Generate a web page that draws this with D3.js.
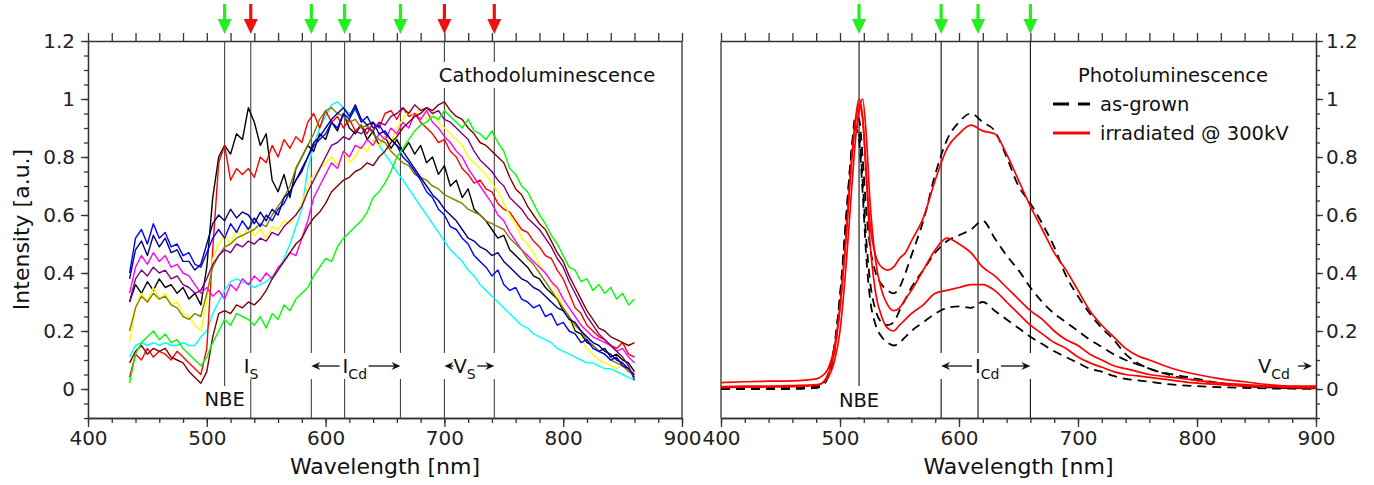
<!DOCTYPE html>
<html>
<head>
<meta charset="utf-8">
<script src="https://cdn.jsdelivr.net/npm/d3@7"></script>
<style>
  body { margin: 0; background: #fff; }
  svg { display: block; font-family: "DejaVu Sans", sans-serif; }
  .axis path, .axis line { stroke: #333; stroke-width: 1.3; }
  .axis text { fill: #222; font-size: 20px; font-family: "DejaVu Sans", sans-serif; }
  .lbl { fill: #111; font-size: 19.5px; }
  .title { fill: #111; font-size: 22px; }
</style>
</head>
<body>
<svg id="chart" width="1374" height="485"></svg>
<script>
// ---- Data ----
// Cathodoluminescence spectra, sampled every 5 nm from 435 nm
const CL_START = 435, CL_STEP = 5;

const clBlack = [0.30,0.36,0.33,0.37,0.34,0.38,0.35,0.36,0.33,0.35,
 0.31,0.33,0.29,0.42,0.66,0.80,0.84,0.81,0.88,0.86,
 0.97,0.92,0.84,0.88,0.72,0.68,0.74,0.66,0.76,0.80,
 0.84,0.82,0.88,0.86,0.92,0.89,0.95,0.90,0.88,0.91,
 0.86,0.89,0.84,0.87,0.83,0.86,0.82,0.85,0.81,0.84,
 0.78,0.80,0.74,0.77,0.70,0.72,0.66,0.69,0.62,0.60,
 0.58,0.55,0.52,0.53,0.48,0.46,0.44,0.42,0.39,0.38,
 0.35,0.33,0.31,0.27,0.25,0.20,0.19,0.16,0.15,0.13,
 0.14,0.11,0.12,0.10,0.09,0.06];
const clRed = [0.04,0.12,0.10,0.14,0.11,0.13,0.12,0.10,0.13,0.11,
 0.09,0.07,0.05,0.14,0.48,0.78,0.84,0.72,0.76,0.74,
 0.76,0.73,0.80,0.78,0.84,0.80,0.86,0.83,0.87,0.85,
 0.92,0.95,0.90,0.96,0.92,0.94,0.90,0.93,0.89,0.91,
 0.88,0.92,0.90,0.95,0.96,0.93,0.97,0.94,0.95,0.92,
 0.90,0.88,0.85,0.86,0.82,0.80,0.76,0.74,0.71,0.72,
 0.69,0.68,0.64,0.62,0.61,0.58,0.55,0.54,0.51,0.49,
 0.46,0.45,0.41,0.38,0.33,0.28,0.26,0.22,0.20,0.18,
 0.17,0.15,0.14,0.16,0.12,0.11];
const clBlue = [0.40,0.52,0.55,0.50,0.57,0.52,0.54,0.49,0.50,0.46,
 0.47,0.43,0.42,0.47,0.52,0.55,0.52,0.57,0.54,0.58,
 0.55,0.59,0.56,0.60,0.58,0.62,0.64,0.68,0.72,0.75,
 0.80,0.84,0.86,0.88,0.92,0.90,0.95,0.93,0.97,0.92,
 0.94,0.90,0.91,0.88,0.86,0.84,0.80,0.78,0.75,0.72,
 0.68,0.66,0.62,0.60,0.56,0.55,0.52,0.50,0.46,0.44,
 0.42,0.39,0.41,0.36,0.34,0.35,0.31,0.30,0.28,0.29,
 0.25,0.26,0.22,0.23,0.20,0.19,0.16,0.17,0.14,0.13,
 0.12,0.10,0.11,0.08,0.07,0.05];
const clNavy = [0.38,0.48,0.51,0.46,0.53,0.49,0.52,0.47,0.48,0.44,
 0.44,0.41,0.43,0.50,0.57,0.60,0.58,0.62,0.59,0.61,
 0.60,0.57,0.61,0.58,0.62,0.60,0.66,0.68,0.72,0.76,
 0.80,0.85,0.87,0.90,0.93,0.95,0.97,0.94,0.98,0.93,
 0.91,0.92,0.88,0.89,0.86,0.84,0.82,0.79,0.76,0.73,
 0.70,0.67,0.65,0.62,0.60,0.58,0.55,0.52,0.51,0.49,
 0.48,0.46,0.47,0.44,0.42,0.40,0.38,0.37,0.35,0.34,
 0.32,0.30,0.28,0.27,0.24,0.23,0.20,0.18,0.16,0.15,
 0.13,0.12,0.10,0.09,0.07,0.04];
const clMagenta = [0.33,0.42,0.46,0.43,0.47,0.44,0.46,0.42,0.43,0.40,
 0.39,0.36,0.33,0.35,0.32,0.34,0.31,0.36,0.34,0.38,
 0.36,0.39,0.37,0.40,0.38,0.42,0.44,0.47,0.46,0.52,
 0.58,0.66,0.70,0.74,0.78,0.76,0.82,0.80,0.84,0.83,
 0.86,0.84,0.88,0.86,0.90,0.88,0.92,0.90,0.95,0.93,
 0.96,0.92,0.90,0.87,0.85,0.82,0.80,0.76,0.73,0.70,
 0.67,0.64,0.60,0.58,0.54,0.51,0.48,0.46,0.44,0.42,
 0.40,0.37,0.35,0.31,0.28,0.25,0.22,0.20,0.18,0.17,
 0.16,0.15,0.13,0.14,0.11,0.09];
const clPurple = [0.30,0.38,0.41,0.39,0.42,0.40,0.41,0.38,0.39,0.36,
 0.35,0.33,0.34,0.38,0.43,0.46,0.48,0.47,0.50,0.49,
 0.51,0.50,0.52,0.51,0.54,0.53,0.56,0.58,0.60,0.63,
 0.68,0.72,0.76,0.80,0.84,0.85,0.87,0.86,0.89,0.88,
 0.90,0.89,0.92,0.91,0.94,0.95,0.97,0.95,0.98,0.96,
 0.97,0.95,0.96,0.93,0.92,0.90,0.88,0.86,0.82,0.79,
 0.77,0.75,0.72,0.70,0.66,0.64,0.62,0.59,0.57,0.55,
 0.52,0.49,0.45,0.42,0.37,0.33,0.29,0.25,0.22,0.19,
 0.17,0.15,0.13,0.11,0.08,0.03];
const clYellow = [0.16,0.28,0.33,0.30,0.35,0.31,0.33,0.29,0.30,0.26,
 0.25,0.22,0.20,0.30,0.45,0.50,0.53,0.50,0.55,0.52,
 0.56,0.53,0.55,0.52,0.56,0.55,0.58,0.57,0.60,0.64,
 0.70,0.74,0.76,0.78,0.80,0.77,0.82,0.78,0.80,0.84,
 0.82,0.86,0.84,0.87,0.85,0.90,0.93,0.96,0.94,0.97,
 0.93,0.95,0.92,0.90,0.88,0.86,0.84,0.80,0.78,0.76,
 0.74,0.71,0.68,0.64,0.60,0.57,0.52,0.50,0.47,0.43,
 0.40,0.37,0.33,0.28,0.24,0.19,0.17,0.14,0.12,0.10,
 0.09,0.08,0.07,0.09,0.06,0.05];
const clOlive = [0.20,0.28,0.32,0.30,0.33,0.31,0.32,0.29,0.28,0.25,
 0.24,0.26,0.25,0.33,0.42,0.46,0.49,0.50,0.52,0.53,
 0.54,0.55,0.57,0.56,0.60,0.63,0.66,0.70,0.76,0.80,
 0.84,0.88,0.93,0.96,0.97,0.95,0.94,0.92,0.93,0.90,
 0.91,0.88,0.86,0.85,0.82,0.80,0.78,0.77,0.74,0.73,
 0.72,0.70,0.69,0.67,0.66,0.65,0.64,0.62,0.61,0.60,
 0.58,0.57,0.56,0.55,0.52,0.50,0.48,0.45,0.43,0.40,
 0.37,0.34,0.31,0.28,0.25,0.22,0.20,0.17,0.15,0.13,
 0.12,0.10,0.09,0.08,0.06,0.05];
const clCyan = [0.11,0.15,0.16,0.15,0.16,0.15,0.16,0.15,0.15,0.16,
 0.15,0.15,0.18,0.20,0.26,0.30,0.34,0.37,0.38,0.37,
 0.36,0.35,0.36,0.37,0.39,0.41,0.45,0.50,0.56,0.62,
 0.76,0.84,0.90,0.94,0.98,0.99,0.97,0.95,0.96,0.93,
 0.91,0.88,0.84,0.81,0.78,0.75,0.72,0.69,0.66,0.63,
 0.60,0.57,0.54,0.51,0.48,0.46,0.44,0.41,0.39,0.36,
 0.34,0.32,0.30,0.28,0.26,0.24,0.22,0.21,0.19,0.18,
 0.17,0.16,0.14,0.13,0.12,0.11,0.10,0.09,0.09,0.08,
 0.07,0.07,0.06,0.05,0.04,0.03];
const clMaroon = [0.09,0.13,0.15,0.12,0.14,0.13,0.14,0.11,0.10,0.09,
 0.06,0.04,0.02,0.06,0.18,0.26,0.27,0.26,0.29,0.28,
 0.30,0.29,0.31,0.34,0.38,0.41,0.44,0.47,0.50,0.52,
 0.56,0.59,0.61,0.64,0.68,0.70,0.72,0.73,0.75,0.76,
 0.78,0.77,0.80,0.82,0.85,0.87,0.90,0.92,0.94,0.95,
 0.97,0.96,0.98,0.99,0.96,0.94,0.93,0.90,0.88,0.85,
 0.84,0.82,0.80,0.78,0.73,0.69,0.67,0.63,0.60,0.57,
 0.55,0.51,0.47,0.44,0.39,0.35,0.31,0.27,0.24,0.21,
 0.20,0.18,0.17,0.16,0.15,0.16];
const clGreen = [0.02,0.12,0.16,0.18,0.20,0.17,0.19,0.16,0.17,0.14,
 0.12,0.10,0.08,0.11,0.16,0.20,0.24,0.22,0.26,0.25,
 0.24,0.22,0.25,0.21,0.26,0.24,0.29,0.27,0.31,0.33,
 0.35,0.39,0.42,0.45,0.44,0.49,0.52,0.54,0.56,0.58,
 0.61,0.66,0.68,0.71,0.75,0.80,0.83,0.86,0.89,0.91,
 0.92,0.94,0.93,0.96,0.94,0.92,0.90,0.93,0.89,0.88,
 0.86,0.89,0.85,0.82,0.76,0.74,0.70,0.68,0.64,0.60,
 0.57,0.53,0.50,0.46,0.42,0.41,0.37,0.38,0.34,0.36,
 0.33,0.35,0.31,0.33,0.29,0.31];

// Photoluminescence spectra
const plWl = [400,420,440,460,480,485,490,495,500,505,510,513,516,519,522,525,530,535,540,545,
  550,555,560,570,580,590,600,610,620,630,640,650,660,670,680,690,700,710,720,730,
  740,750,760,780,800,820,840,860,880,900];
const plGrown1 = [0.005,0.005,0.005,0.005,0.01,0.02,0.05,0.14,0.32,0.58,0.84,0.94,0.93,0.80,0.62,0.50,0.40,0.36,0.34,0.33,
  0.35,0.40,0.46,0.58,0.74,0.86,0.92,0.95,0.92,0.89,0.80,0.70,0.64,0.57,0.49,0.39,0.32,0.26,0.21,0.17,
  0.12,0.09,0.07,0.05,0.035,0.02,0.012,0.008,0.004,0.003];
const plGrown2 = [0.0,0.0,0.0,0.002,0.005,0.015,0.05,0.14,0.32,0.58,0.83,0.91,0.88,0.72,0.52,0.38,0.27,0.23,0.22,0.23,
  0.27,0.31,0.35,0.41,0.47,0.51,0.53,0.55,0.58,0.52,0.46,0.41,0.35,0.30,0.26,0.23,0.20,0.17,0.145,0.12,
  0.10,0.085,0.07,0.045,0.03,0.02,0.01,0.006,0.003,0.002];
const plGrown3 = [0.0,0.0,0.0,0.0,0.004,0.012,0.04,0.12,0.30,0.56,0.82,0.90,0.86,0.68,0.46,0.32,0.22,0.18,0.16,0.15,
  0.16,0.18,0.20,0.23,0.26,0.28,0.285,0.28,0.30,0.27,0.24,0.21,0.18,0.155,0.13,0.11,0.09,0.07,0.06,0.045,
  0.035,0.03,0.025,0.015,0.01,0.006,0.004,0.002,0.001,0.0];
const plIrr1 = [0.022,0.025,0.027,0.028,0.035,0.045,0.07,0.14,0.28,0.52,0.80,0.93,1.0,0.94,0.74,0.58,0.46,0.42,0.41,0.42,
  0.45,0.47,0.51,0.59,0.72,0.83,0.88,0.91,0.89,0.88,0.81,0.72,0.63,0.55,0.47,0.41,0.34,0.27,0.22,0.18,
  0.14,0.115,0.10,0.07,0.05,0.035,0.025,0.015,0.01,0.01];
const plIrr2 = [0.008,0.01,0.01,0.012,0.015,0.02,0.04,0.09,0.20,0.42,0.70,0.86,0.96,1.0,0.88,0.66,0.44,0.34,0.29,0.27,
  0.28,0.31,0.34,0.41,0.48,0.52,0.50,0.47,0.42,0.39,0.35,0.31,0.27,0.24,0.20,0.17,0.15,0.12,0.10,0.08,
  0.07,0.06,0.05,0.04,0.03,0.02,0.015,0.01,0.008,0.005];
const plIrr3 = [0.005,0.006,0.007,0.008,0.012,0.02,0.05,0.12,0.28,0.52,0.80,0.92,0.98,0.93,0.75,0.52,0.33,0.25,0.21,0.20,
  0.22,0.24,0.26,0.29,0.33,0.34,0.35,0.36,0.36,0.34,0.30,0.26,0.22,0.19,0.16,0.14,0.11,0.09,0.075,0.06,
  0.05,0.045,0.04,0.03,0.02,0.015,0.01,0.008,0.005,0.004];

// Marker wavelengths
const clMarkGreen = [515, 588, 616, 663];
const clMarkRed = [537, 700, 742];
const plMarkGreen = [516, 585, 616, 660];

// Tick labels
const xMajor = [400, 500, 600, 700, 800, 900];
const xTickLabels = ["400", "500", "600", "700", "800", "900"];
const yMajor = [0, 0.2, 0.4, 0.6, 0.8, 1, 1.2];
const yTickLabels = ["0", "0.2", "0.4", "0.6", "0.8", "1", "1.2"];
const xMinor = d3.range(400, 901, 20);
const yMinor = d3.range(-0.1, 1.2001, 0.05);

// ---- Scales ----
const svg = d3.select("#chart");
const yScale = d3.scaleLinear().domain([-0.1, 1.2]).range([418, 41]);
const xLeft = d3.scaleLinear().domain([400, 900]).range([88, 682]);
const xRight = d3.scaleLinear().domain([400, 900]).range([721, 1316]);
const yTop = yScale(1.2), yBot = yScale(-0.1);

// clip areas
const defs = svg.append("defs");
[["clipL", xLeft], ["clipR", xRight]].forEach(([id, x]) => {
  defs.append("clipPath").attr("id", id).append("rect")
    .attr("x", x.range()[0]).attr("y", yTop)
    .attr("width", x.range()[1] - x.range()[0]).attr("height", yBot - yTop);
});

// ---- Axes / frames ----
function drawFrame(x, side) {
  const g = svg.append("g");
  g.append("g").attr("class", "axis").attr("transform", `translate(0,${yBot})`)
    .call(d3.axisBottom(x).tickValues(xMinor).tickSize(5).tickSizeOuter(0).tickFormat(""));
  g.append("g").attr("class", "axis").attr("transform", `translate(0,${yBot})`)
    .call(d3.axisBottom(x).tickValues(xMajor).tickSize(9).tickSizeOuter(0).tickPadding(4)
      .tickFormat((d, i) => xTickLabels[i]));
  g.append("g").attr("class", "axis").attr("transform", `translate(0,${yTop})`)
    .call(d3.axisTop(x).tickValues(xMinor).tickSize(8).tickSizeOuter(0).tickFormat(""));

  const xa = side === "left" ? x.range()[0] : x.range()[1];
  const xo = side === "left" ? x.range()[1] : x.range()[0];
  const axisFn = side === "left" ? d3.axisLeft : d3.axisRight;
  g.append("g").attr("class", "axis").attr("transform", `translate(${xa},0)`)
    .call(axisFn(yScale).tickValues(yMinor).tickSize(4).tickSizeOuter(0).tickFormat(""));
  g.append("g").attr("class", "axis").attr("transform", `translate(${xa},0)`)
    .call(axisFn(yScale).tickValues(yMajor).tickSize(7).tickSizeOuter(0).tickPadding(side === "left" ? 6 : 3)
      .tickFormat((d, i) => yTickLabels[i]));
  g.append("line").attr("x1", xo).attr("x2", xo).attr("y1", yTop).attr("y2", yBot)
    .attr("stroke", "#333").attr("stroke-width", 1.3);

  svg.append("text").attr("class", "title")
    .attr("x", (x.range()[0] + x.range()[1]) / 2).attr("y", 474)
    .attr("text-anchor", "middle").text("Wavelength [nm]");
}

drawFrame(xLeft, "left");
drawFrame(xRight, "right");

svg.append("text").attr("class", "title")
  .attr("transform", `translate(29,${(yTop + yBot) / 2}) rotate(-90)`)
  .attr("text-anchor", "middle").text("Intensity [a.u.]");

// ---- Vertical marker lines ----
function vLines(x, list, color) {
  svg.append("g").selectAll("line").data(list).enter().append("line")
    .attr("x1", d => x(d)).attr("x2", d => x(d))
    .attr("y1", yTop).attr("y2", yBot)
    .attr("stroke", color).attr("stroke-width", 1.1);
}
vLines(xLeft, clMarkGreen.concat(clMarkRed), "#444");
vLines(xRight, plMarkGreen, "#111");

// ---- CL spectra ----
const clSeries = [
  { color: "#00ffff", values: clCyan },
  { color: "#000000", values: clBlack },
  { color: "#ff0000", values: clRed },
  { color: "#ffff00", values: clYellow },
  { color: "#ff00ff", values: clMagenta },
  { color: "#808000", values: clOlive },
  { color: "#0000ff", values: clBlue },
  { color: "#000080", values: clNavy },
  { color: "#800080", values: clPurple },
  { color: "#800000", values: clMaroon },
  { color: "#00ff00", values: clGreen }
];
const clLine = d3.line()
  .x((d, i) => xLeft(CL_START + i * CL_STEP))
  .y(d => yScale(d));
svg.append("g").attr("clip-path", "url(#clipL)")
  .selectAll("path").data(clSeries).enter().append("path")
  .attr("d", d => clLine(d.values))
  .attr("fill", "none").attr("stroke", d => d.color)
  .attr("stroke-width", 1.4).attr("stroke-linejoin", "round");

// ---- PL spectra ----
const plLine = d3.line()
  .x((d, i) => xRight(plWl[i]))
  .y(d => yScale(d))
  .curve(d3.curveMonotoneX);
const plSeries = [
  { values: plGrown1, dash: true }, { values: plGrown2, dash: true }, { values: plGrown3, dash: true },
  { values: plIrr1, dash: false }, { values: plIrr2, dash: false }, { values: plIrr3, dash: false }
];
svg.append("g").attr("clip-path", "url(#clipR)")
  .selectAll("path").data(plSeries).enter().append("path")
  .attr("d", d => plLine(d.values))
  .attr("fill", "none")
  .attr("stroke", d => d.dash ? "#000" : "#ff0000")
  .attr("stroke-width", d => d.dash ? 1.8 : 1.7)
  .attr("stroke-dasharray", d => d.dash ? "9,6" : null);

// ---- Top arrows ----
function downArrow(x, color) {
  svg.append("line").attr("x1", x).attr("x2", x).attr("y1", 4).attr("y2", 22)
    .attr("stroke", color).attr("stroke-width", 3.2);
  svg.append("path").attr("d", `M${x - 7},19 L${x + 7},19 L${x},34 Z`).attr("fill", color);
}
clMarkGreen.forEach(d => downArrow(xLeft(d), "#22ee22"));
clMarkRed.forEach(d => downArrow(xLeft(d), "#ee1111"));
plMarkGreen.forEach(d => downArrow(xRight(d), "#22ee22"));

// ---- Labels ----
function whiteBox(x, y, w, h) {
  svg.append("rect").attr("x", x).attr("y", y).attr("width", w).attr("height", h).attr("fill", "#fff");
}
function hArrow(x1, x2, y) {
  // line with a small head at x2
  const dir = x2 > x1 ? 1 : -1;
  svg.append("line").attr("x1", x1).attr("x2", x2 - dir * 5).attr("y1", y).attr("y2", y)
    .attr("stroke", "#111").attr("stroke-width", 1.3);
  svg.append("path")
    .attr("d", `M${x2},${y} L${x2 - dir * 9},${y - 4} L${x2 - dir * 6},${y} L${x2 - dir * 9},${y + 4} Z`)
    .attr("fill", "#111");
}
function subLabel(x, y, main, sub, anchor) {
  const t = svg.append("text").attr("class", "lbl").attr("x", x).attr("y", y)
    .attr("text-anchor", anchor || "start");
  t.append("tspan").text(main);
  t.append("tspan").attr("dy", 6).style("font-size", "14px").text(sub);
  return t;
}

const rowTop = 353, rowH = 26, rowY = 373;

// left panel
whiteBox(434, 62, 226, 26);
svg.append("text").attr("class", "lbl").attr("x", 547).attr("y", 82)
  .attr("text-anchor", "middle").text("Cathodoluminescence");

whiteBox(xLeft(515) - 22, 386, 44, 31);
svg.append("text").attr("class", "lbl").attr("x", xLeft(515)).attr("y", 406)
  .attr("text-anchor", "middle").text("NBE");

whiteBox(xLeft(537) - 9, rowTop, 22, rowH);
subLabel(xLeft(537) - 7, rowY, "I", "S");

[588, 616, 663, 700, 742].forEach(d => whiteBox(xLeft(d) - 2, rowTop, 4, rowH));
subLabel(xLeft(616) - 2, rowY, "I", "Cd");
hArrow(xLeft(616) - 5, xLeft(588), 366);
hArrow(xLeft(616) + 24, xLeft(663), 366);
whiteBox(xLeft(700) + 3, rowTop, 30, rowH);
subLabel(xLeft(700) + 9, rowY, "V", "S");
hArrow(xLeft(700) + 9, xLeft(700), 366);
hArrow(xLeft(700) + 33, xLeft(742), 366);

// right panel
whiteBox(xRight(516) - 22, 386, 44, 31);
svg.append("text").attr("class", "lbl").attr("x", xRight(516)).attr("y", 407)
  .attr("text-anchor", "middle").text("NBE");

[585, 616, 660].forEach(d => whiteBox(xRight(d) - 2, rowTop, 4, rowH));
subLabel(xRight(616) - 3, rowY, "I", "Cd");
hArrow(xRight(616) - 6, xRight(585), 366);
hArrow(xRight(616) + 23, xRight(660), 366);
subLabel(1258, rowY, "V", "Cd");
hArrow(1298, 1312, 366);

// legend
svg.append("text").attr("class", "lbl").attr("x", 1173).attr("y", 82)
  .attr("text-anchor", "middle").text("Photoluminescence");
svg.append("line").attr("x1", 1053).attr("x2", 1090).attr("y1", 104).attr("y2", 104)
  .attr("stroke", "#000").attr("stroke-width", 3.2).attr("stroke-dasharray", "16,9");
svg.append("text").attr("class", "lbl").attr("x", 1100).attr("y", 111).text("as-grown");
svg.append("line").attr("x1", 1053).attr("x2", 1090).attr("y1", 133).attr("y2", 133)
  .attr("stroke", "#ff0000").attr("stroke-width", 3.2);
svg.append("text").attr("class", "lbl").attr("x", 1100).attr("y", 140).text("irradiated @ 300kV");
</script>
</body>
</html>
